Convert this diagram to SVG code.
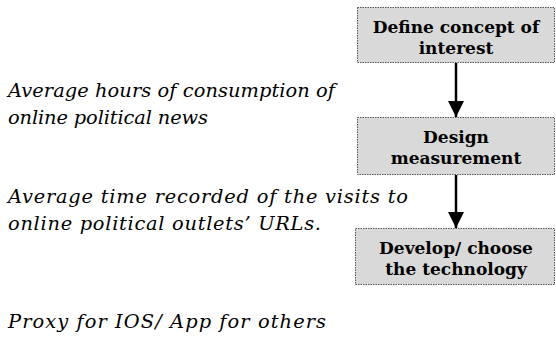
<svg xmlns="http://www.w3.org/2000/svg" width="556" height="345" viewBox="0 0 556 345">
  <style>
    .box { fill: #d9d9d9; stroke: #555; stroke-width: 1; stroke-dasharray: 1.5 1; }
    .btxt { font-family: "DejaVu Serif", "Liberation Serif", serif; font-weight: bold; font-size: 17px; fill: #000; text-anchor: middle; }
    .note { font-family: "DejaVu Serif", "Liberation Serif", serif; font-style: italic; font-size: 19.4px; fill: #000; }
    .conn { stroke: #000; stroke-width: 2.5; fill: none; }
  </style>
  <defs>
    <marker id="arrow" viewBox="0 0 10 10" refX="10" refY="5" markerWidth="6.4" markerHeight="6.4" markerUnits="strokeWidth" orient="auto">
      <path d="M0,0 L10,5 L0,10 Z" fill="#000"/>
    </marker>
  </defs>

  <!-- notes on the left -->
  <text class="note" x="8" y="97" textLength="327" lengthAdjust="spacing">Average hours of consumption of</text>
  <text class="note" x="8" y="124" textLength="200" lengthAdjust="spacing">online political news</text>
  <text class="note" x="8" y="203" textLength="400" lengthAdjust="spacing">Average time recorded of the visits to</text>
  <text class="note" x="8" y="230" textLength="313" lengthAdjust="spacing">online political outlets’ URLs.</text>
  <text class="note" x="8" y="328" textLength="318" lengthAdjust="spacing">Proxy for IOS/ App for others</text>

  <!-- connectors -->
  <g id="connectors">
    <line class="conn" x1="456" y1="63" x2="456" y2="117" marker-end="url(#arrow)"/>
    <line class="conn" x1="456" y1="175" x2="456" y2="228" marker-end="url(#arrow)"/>
  </g>

  <!-- process steps -->
  <g id="define">
    <rect class="box" x="357.5" y="7.5" width="197" height="55"/>
    <text class="btxt" x="456" y="33">Define concept of</text>
    <text class="btxt" x="456" y="54">interest</text>
  </g>
  <g id="design">
    <rect class="box" x="357.5" y="117.5" width="197" height="57"/>
    <text class="btxt" x="456" y="143">Design</text>
    <text class="btxt" x="456" y="164">measurement</text>
  </g>
  <g id="develop">
    <rect class="box" x="355.5" y="228.5" width="199" height="56"/>
    <text class="btxt" x="456" y="254">Develop/ choose</text>
    <text class="btxt" x="456" y="275">the technology</text>
  </g>
</svg>
